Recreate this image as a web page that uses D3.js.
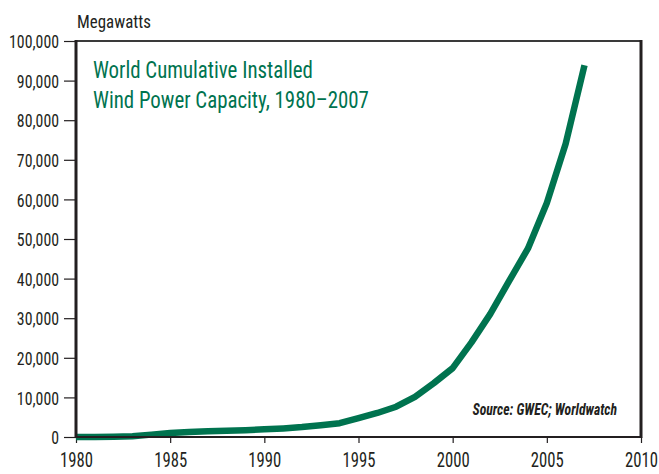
<!DOCTYPE html>
<html><head><meta charset="utf-8">
<script src="https://cdn.jsdelivr.net/npm/d3@7"></script>
<style>
body{margin:0;background:#fff;}
text{font-family:"Liberation Sans Narrow","Roboto Condensed","Liberation Sans",sans-serif;}
</style></head>
<body><svg id="c" width="659" height="474"></svg>
<script>
const years = [1980,1981,1982,1983,1984,1985,1986,1987,1988,1989,1990,1991,1992,1993,1994,1995,1996,1997,1998,1999,2000,2001,2002,2003,2004,2005,2006,2007];
const capacity = [10,25,90,210,600,1020,1270,1450,1580,1730,1930,2170,2510,2990,3480,4780,6070,7640,10150,13600,17400,23900,31100,39430,47620,59090,74050,93850];
const xTicks = [1980,1985,1990,1995,2000,2005,2010];
const yTicks = [0,10000,20000,30000,40000,50000,60000,70000,80000,90000,100000];
const titleLines = ["World Cumulative Installed","Wind Power Capacity, 1980\u20132007"];
const unitLabel = "Megawatts";
const sourceText = "Source: GWEC; Worldwatch";

const svg = d3.select("#c");
const L=76, R=641, T=41, B=437;
const x = d3.scaleLinear().domain([1980,2010]).range([L,R]);
const y = d3.scaleLinear().domain([0,100000]).range([B,T]);
const green = "#00734f";
const txt = "#231f20";

function squeeze(sel, s){
  sel.each(function(){
    const ax = parseFloat(d3.select(this).attr("x"))||0;
    d3.select(this).attr("transform",`translate(${ax},0) scale(${s},1) translate(${-ax},0)`);
  });
}
function widthOf(node){ return node.getBBox().width; }

// y ticks
const yAxis = svg.append("g").attr("transform",`translate(${L},0)`)
  .call(d3.axisLeft(y).tickValues(yTicks).tickSize(12).tickPadding(5).tickFormat(d3.format(",")));
yAxis.select(".domain").remove();
yAxis.selectAll("line").attr("stroke","#231f20").attr("stroke-width",1.2);
yAxis.selectAll("text").attr("fill",txt).attr("font-size",19).attr("dy","0.35em");
{
  const top = yAxis.selectAll("text").filter(d=>d===100000).node();
  squeeze(yAxis.selectAll("text"), 50/widthOf(top));
}

// x ticks
const xAxis = svg.append("g").attr("transform",`translate(0,${B})`)
  .call(d3.axisBottom(x).tickValues(xTicks).tickSize(6).tickPadding(10).tickFormat(d3.format("d")));
xAxis.select(".domain").remove();
xAxis.selectAll("line").attr("stroke","#231f20").attr("stroke-width",1.2);
xAxis.selectAll("text").attr("fill",txt).attr("font-size",20);
{
  const n = xAxis.selectAll("text").filter(d=>d===2000).node();
  squeeze(xAxis.selectAll("text"), 33/widthOf(n));
}

// line
const line = d3.line().x((d,i)=>x(years[i])).y(d=>y(d));
svg.append("path").datum(capacity).attr("d",line).attr("fill","none")
  .attr("stroke",green).attr("stroke-width",6.5).attr("stroke-linejoin","round");

// frame
svg.append("line").attr("x1",L).attr("x2",R).attr("y1",T).attr("y2",T).attr("stroke","#3a3a3a").attr("stroke-width",2);
svg.append("line").attr("x1",L).attr("x2",R).attr("y1",B).attr("y2",B).attr("stroke","#231f20").attr("stroke-width",2);
svg.append("line").attr("x1",L).attr("x2",L).attr("y1",T-1).attr("y2",B+1).attr("stroke","#231f20").attr("stroke-width",3);
svg.append("line").attr("x1",R).attr("x2",R).attr("y1",T-1).attr("y2",B+1).attr("stroke","#231f20").attr("stroke-width",3);

// labels
const mw = svg.append("text").attr("x",77).attr("y",28).attr("fill",txt).attr("font-size",19).text(unitLabel);
squeeze(mw, 74/widthOf(mw.node()));

const tl = titleLines.map((t,i)=>svg.append("text").attr("x",93).attr("y",78+i*30).attr("fill",green).attr("font-size",23.5).text(t));
const ts = 220/widthOf(tl[0].node());
tl.forEach(t=>squeeze(t, ts));

const src = svg.append("text").attr("x",617).attr("y",415).attr("text-anchor","end").attr("fill",txt)
  .attr("font-size",16).attr("font-style","italic").attr("font-weight","bold").text(sourceText);
squeeze(src, 145/widthOf(src.node()));
</script></body></html>
